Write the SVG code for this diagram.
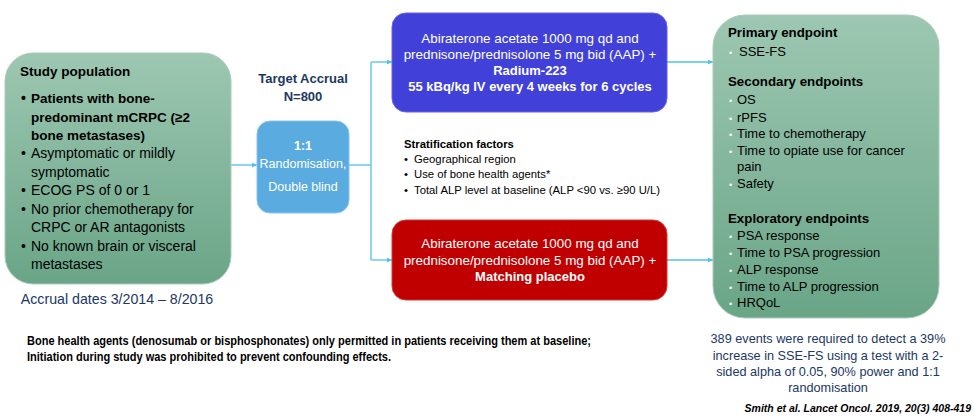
<svg xmlns="http://www.w3.org/2000/svg" width="974" height="418" viewBox="0 0 974 418">
<defs>
<linearGradient id="g" x1="0" y1="0" x2="0" y2="1">
<stop offset="0" stop-color="#9dc7b2"/>
<stop offset="1" stop-color="#6aa587"/>
</linearGradient>
<marker id="ah" viewBox="0 0 6 6" refX="6" refY="3" markerWidth="5" markerHeight="5" orient="auto" markerUnits="userSpaceOnUse">
<path d="M0,0 L6,3 L0,6 z" fill="#4fc3e8"/>
</marker>
</defs>
<style>
text{font-family:"Liberation Sans",Arial,sans-serif;}
.b{font-weight:bold;}
.k{fill:#000;}
.w{fill:#fff;}
.n{fill:#203864;}
.t{font-size:14px;}
.m{font-size:13px;}
.x{font-size:11.3px;}
.c{stroke:#4fc3e8;stroke-width:1.3;fill:none;}
.wb{fill:#fff;font-size:9px;}
</style>
<rect width="974" height="418" fill="#fff"/>

<g id="connectors">
<line class="c" x1="231" y1="165" x2="257" y2="165" marker-end="url(#ah)"/>
<line class="c" x1="349" y1="165" x2="371" y2="165"/>
<line class="c" x1="371" y1="62" x2="371" y2="260"/>
<line class="c" x1="371" y1="62" x2="392" y2="62" marker-end="url(#ah)"/>
<line class="c" x1="371" y1="260" x2="392" y2="260" marker-end="url(#ah)"/>
<line class="c" x1="667" y1="62" x2="713" y2="62" marker-end="url(#ah)"/>
<line class="c" x1="667" y1="260" x2="713" y2="260" marker-end="url(#ah)"/>
</g>

<g id="study-population">
<rect x="5" y="53" width="226" height="231" rx="28" fill="url(#g)" stroke="#a9cdb9" stroke-width="1"/>
<text x="20" y="76" class="b k" font-size="13.5">Study population</text>
<g class="k t">
<text x="21" y="103" class="b">•</text>
<text x="31" y="103" class="b" font-size="13.5">Patients with bone-</text>
<text x="31" y="122" class="b" font-size="13.5">predominant mCRPC (≥2</text>
<text x="31" y="140" class="b" font-size="13.5">bone metastases)</text>
<text x="21" y="158">•</text>
<text x="31" y="158">Asymptomatic or mildly</text>
<text x="31" y="177">symptomatic</text>
<text x="21" y="195">•</text>
<text x="31" y="195">ECOG PS of 0 or 1</text>
<text x="21" y="214">•</text>
<text x="31" y="214">No prior chemotherapy for</text>
<text x="31" y="232">CRPC or AR antagonists</text>
<text x="21" y="251">•</text>
<text x="31" y="251">No known brain or visceral</text>
<text x="31" y="269">metastases</text>
</g>
</g>

<g id="accrual-dates">
<text x="117" y="304" text-anchor="middle" class="n" font-size="14.2">Accrual dates 3/2014 – 8/2016</text>
</g>

<g id="target-accrual">
<text x="303" y="83" text-anchor="middle" class="b n" font-size="13">Target Accrual</text>
<text x="303" y="101" text-anchor="middle" class="b n" font-size="13">N=800</text>
</g>

<g id="randomisation">
<rect x="257" y="121" width="92" height="92" rx="13" fill="#5aabe0" stroke="#8ac6ee" stroke-width="1"/>
<text x="303" y="150" text-anchor="middle" class="b w" font-size="12.5">1:1</text>
<text x="303" y="168" text-anchor="middle" class="w" font-size="12.5">Randomisation,</text>
<text x="303" y="191" text-anchor="middle" class="w" font-size="12.5">Double blind</text>
</g>

<g id="arm-radium">
<rect x="392" y="13" width="275" height="99" rx="14" fill="#4141da" stroke="#6464e6" stroke-width="1"/>
<g class="w" text-anchor="middle" font-size="13.4">
<text x="530" y="43">Abiraterone acetate 1000 mg qd and</text>
<text x="530" y="59">prednisone/prednisolone 5 mg bid (AAP) +</text>
<text x="530" y="75" class="b" font-size="13">Radium-223</text>
<text x="530" y="91" class="b" font-size="13">55 kBq/kg IV every 4 weeks for 6 cycles</text>
</g>
</g>

<g id="stratification">
<text x="404" y="148" class="b k" font-size="11.3">Stratification factors</text>
<g class="k x">
<text x="404" y="163">•</text>
<text x="414" y="163">Geographical region</text>
<text x="404" y="178">•</text>
<text x="414" y="178">Use of bone health agents*</text>
<text x="404" y="194">•</text>
<text x="414" y="194">Total ALP level at baseline (ALP &lt;90 vs. ≥90 U/L)</text>
</g>
</g>

<g id="arm-placebo">
<rect x="392" y="220" width="275" height="80" rx="14" fill="#c00000" stroke="#d23a3a" stroke-width="1"/>
<g class="w" text-anchor="middle" font-size="13.4">
<text x="530" y="248">Abiraterone acetate 1000 mg qd and</text>
<text x="530" y="265">prednisone/prednisolone 5 mg bid (AAP) +</text>
<text x="530" y="281" class="b" font-size="13">Matching placebo</text>
</g>
</g>

<g id="endpoints">
<rect x="713" y="15" width="226" height="303" rx="32" fill="url(#g)" stroke="#a9cdb9" stroke-width="1"/>
<g class="k m">
<text x="728" y="37" class="b" font-size="13.3">Primary endpoint</text>
<text x="729" y="56" class="wb">•</text><text x="739" y="56">SSE-FS</text>
<text x="728" y="86" class="b" font-size="13.3">Secondary endpoints</text>
<text x="729" y="104" class="wb">•</text><text x="737" y="104">OS</text>
<text x="729" y="122" class="wb">•</text><text x="737" y="122">rPFS</text>
<text x="729" y="138" class="wb">•</text><text x="737" y="138">Time to chemotherapy</text>
<text x="729" y="155" class="wb">•</text><text x="737" y="155">Time to opiate use for cancer</text>
<text x="737" y="171">pain</text>
<text x="729" y="188" class="wb">•</text><text x="737" y="188">Safety</text>
<text x="728" y="223" class="b" font-size="13.3">Exploratory endpoints</text>
<text x="729" y="240" class="wb">•</text><text x="737" y="240">PSA response</text>
<text x="729" y="257" class="wb">•</text><text x="737" y="257">Time to PSA progression</text>
<text x="729" y="274" class="wb">•</text><text x="737" y="274">ALP response</text>
<text x="729" y="291" class="wb">•</text><text x="737" y="291">Time to ALP progression</text>
<text x="729" y="307" class="wb">•</text><text x="737" y="307">HRQoL</text>
</g>
</g>

<g id="power-note" class="n" text-anchor="middle" font-size="12.7">
<text x="828" y="343">389 events were required to detect a 39%</text>
<text x="828" y="360">increase in SSE-FS using a test with a 2-</text>
<text x="828" y="376">sided alpha of 0.05, 90% power and 1:1</text>
<text x="828" y="392">randomisation</text>
</g>

<g id="bone-note" class="b k" font-size="12">
<text x="27" y="345" textLength="564" lengthAdjust="spacingAndGlyphs">Bone health agents (denosumab or bisphosphonates) only permitted in patients receiving them at baseline;</text>
<text x="27" y="361" textLength="364" lengthAdjust="spacingAndGlyphs">Initiation during study was prohibited to prevent confounding effects.</text>
</g>

<g id="citation">
<text x="971" y="412" text-anchor="end" class="b k" font-style="italic" font-size="10.5">Smith et al. Lancet Oncol. 2019, 20(3) 408-419</text>
</g>
</svg>
